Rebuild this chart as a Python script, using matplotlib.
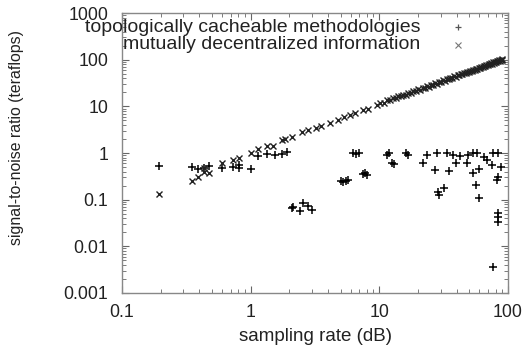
import matplotlib
matplotlib.use('Agg')
import matplotlib.pyplot as plt
from matplotlib.ticker import LogLocator, FixedFormatter, FixedLocator, NullFormatter

plt.rcParams['font.family'] = ['Liberation Sans', 'DejaVu Sans']

# series 1: topologically cacheable methodologies (+)
x_topo = [0.194, 0.35, 0.39, 0.435, 0.475, 0.6, 0.73, 0.81, 0.81, 1.01, 1.14, 1.34, 1.55, 1.76, 1.92,
          2.1, 2.15, 2.43, 2.55, 2.8, 2.97,
          5.0, 5.25, 5.7, 5.5, 6.2, 6.6, 7.0, 7.5, 8.0, 7.7,
          11.5, 11.9, 12.9, 12.6, 16.0, 16.8, 21.9, 23.5, 28.2, 27.0, 28.7, 28.9, 31.8,
          33.6, 34.6, 37.6, 39.7, 42.6, 48.4, 49.0, 53.6, 53.6, 56.0, 59.0, 60.0, 57.0,
          64.6, 69.0, 75.5, 76.0, 83.0, 82.5, 84.0, 88.0, 84.0, 84.0, 84.0, 77.0]
y_topo = [0.53, 0.50, 0.46, 0.47, 0.53, 0.47, 0.50, 0.47, 0.55, 0.46, 0.86, 0.93, 0.90, 0.93, 1.05,
          0.066, 0.070, 0.058, 0.085, 0.075, 0.060,
          0.25, 0.24, 0.26, 0.25, 1.0, 0.95, 1.0, 0.35, 0.33, 0.37,
          0.90, 1.0, 0.58, 0.60, 1.0, 0.90, 0.60, 0.90, 1.0, 0.43, 0.146, 0.125, 0.178,
          1.0, 0.41, 0.90, 0.60, 0.86, 0.60, 0.90, 1.0, 0.37, 0.21, 0.11, 0.46, 1.0,
          0.83, 0.70, 0.55, 1.0, 0.31, 0.27, 1.0, 0.50, 0.052, 0.043, 0.033, 0.0036]

# series 2: mutually decentralized information (x)
x_mutu = [0.194, 0.35, 0.39, 0.435, 0.435, 0.475, 0.6, 0.73, 0.81, 1.0, 1.14, 1.34, 1.5, 1.76, 1.85,
          2.1, 2.5, 2.8, 3.2, 3.5, 4.15, 4.8, 5.3, 5.9, 6.5, 7.5, 8.2, 9.6,
          10.2, 10.9, 11.5, 12.1, 12.8, 13.4, 14.0, 14.7, 15.3, 16.0, 16.8, 17.5, 18.4, 19.1,
          20.0, 20.8, 21.7, 22.5, 23.4, 24.3, 25.2, 26.0, 27.1, 28.0, 29.1, 30.0, 31.2, 32.3,
          33.4, 34.6, 35.7, 36.9, 38.0, 39.3, 40.5, 41.8, 43.0, 44.2, 45.5, 46.9, 48.2, 49.5,
          50.8, 52.3, 53.6, 55.0, 56.4, 57.9, 59.2, 60.7, 62.1, 63.5, 65.0, 66.4, 67.9, 69.3,
          70.8, 72.2, 73.6, 75.1, 76.5, 78.0, 79.4, 80.8, 82.3, 83.7, 85.1, 86.4, 87.8, 89.1, 90.0]
y_mutu = [0.132, 0.25, 0.30, 0.47, 0.39, 0.37, 0.61, 0.71, 0.78, 1.0, 1.2, 1.41, 1.41, 1.9, 2.0,
          2.2, 2.8, 3.1, 3.4, 3.8, 4.4, 5.1, 5.8, 6.5, 7.2, 8.3, 9.0, 10.7,
          11.8, 12.1, 13.6, 13.5, 15.0, 14.8, 16.5, 16.3, 17.9, 17.6, 19.7, 19.3, 21.8, 21.0,
          23.5, 22.9, 25.3, 24.8, 27.4, 26.6, 29.4, 28.5, 31.6, 30.9, 33.7, 33.2, 36.1, 35.5,
          38.8, 38.1, 41.2, 40.6, 43.9, 43.1, 46.7, 45.9, 49.5, 48.6, 52.3, 51.4, 55.4, 54.3,
          58.4, 57.4, 61.5, 60.3, 64.7, 63.5, 67.8, 66.6, 71.1, 69.6, 74.3, 72.8, 77.6, 76.0,
          80.9, 79.2, 84.1, 82.4, 87.3, 85.5, 90.6, 88.7, 93.8, 91.8, 97.0, 94.9, 100.1, 97.8, 102.0]

labels = ['topologically cacheable methodologies', 'mutually decentralized information']
xticks = [0.1, 1, 10, 100]
yticks = [0.001, 0.01, 0.1, 1, 10, 100, 1000]

fig = plt.figure(figsize=(5.27, 3.53), dpi=100)
ax = fig.add_axes([0.2315, 0.17, 0.7325, 0.793])

ax.plot(x_topo, y_topo, '+', color='black', ms=6, mew=1.1, linestyle='none')
ax.plot(x_mutu, y_mutu, 'x', color='#222222', ms=5, mew=1.0, linestyle='none')

ax.set_xscale('log')
ax.set_yscale('log')
ax.set_xlim(0.1, 100)
ax.set_ylim(0.001, 1000)

ax.xaxis.set_major_locator(FixedLocator(xticks))
ax.xaxis.set_major_formatter(FixedFormatter(['0.1', '1', '10', '100']))
ax.yaxis.set_major_locator(FixedLocator(yticks))
ax.yaxis.set_major_formatter(FixedFormatter(['0.001', '0.01', '0.1', '1', '10', '100', '1000']))
ax.xaxis.set_minor_locator(LogLocator(base=10, subs=range(2, 10)))
ax.yaxis.set_minor_locator(LogLocator(base=10, subs=range(2, 10)))
ax.xaxis.set_minor_formatter(NullFormatter())
ax.yaxis.set_minor_formatter(NullFormatter())

ax.tick_params(which='both', direction='in', top=True, right=True, colors='#666666',
               labelcolor='#222222', labelsize=12.8)
ax.tick_params(which='major', length=5, width=0.8)
ax.tick_params(which='minor', length=3, width=0.6)
ax.tick_params(axis='x', pad=8)
ax.tick_params(axis='y', pad=10)
for s in ax.spines.values():
    s.set_color('#888888')
    s.set_linewidth(1.0)

ax.set_xlabel('sampling rate (dB)', fontsize=13.5, color='#222222', labelpad=5)
ax.set_ylabel('signal-to-noise ratio (teraflops)', fontsize=11.4, color='#222222')
ax.yaxis.set_label_coords(-0.255, 0.557)

# gnuplot-style key: text right-aligned, sample mark to the right
ax.text(0.772, 0.95, labels[0], transform=ax.transAxes, ha='right', va='center',
        fontsize=14, color='#222222')
ax.text(0.772, 0.886, labels[1], transform=ax.transAxes, ha='right', va='center',
        fontsize=14, color='#222222')
ax.plot([0.87], [0.95], '+', color='#555555', ms=5, mew=0.9, transform=ax.transAxes, clip_on=False)
ax.plot([0.87], [0.886], 'x', color='#777777', ms=4, mew=0.8, transform=ax.transAxes, clip_on=False)

fig.savefig('out.png', dpi=100)
